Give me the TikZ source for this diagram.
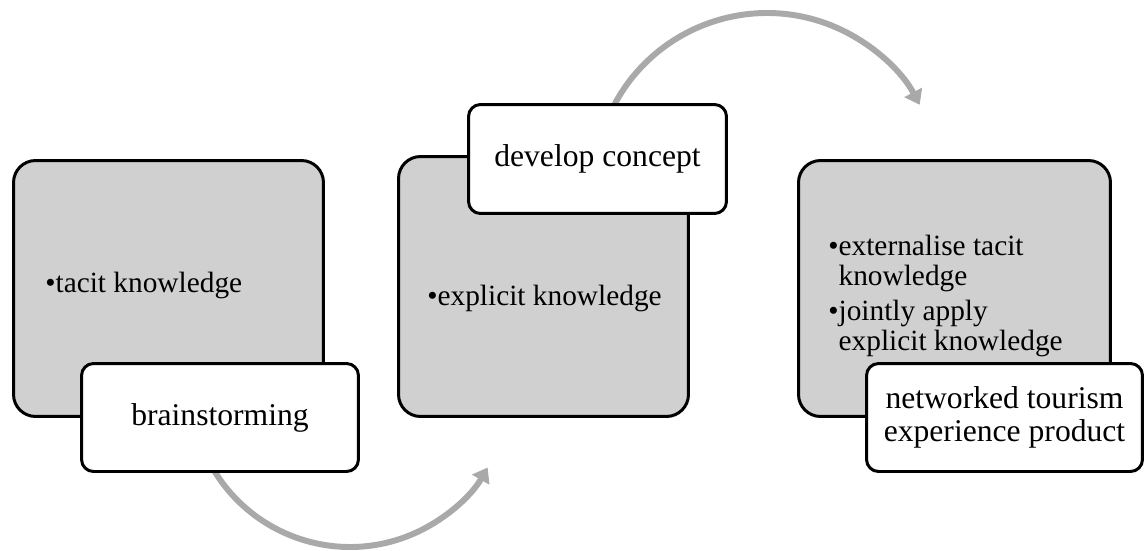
\documentclass[tikz,border=0pt]{standalone}
\usepackage{fontspec}
\setmainfont{Liberation Serif}
\usetikzlibrary{arrows.meta}
\definecolor{boxgray}{HTML}{D0D0D0}
\definecolor{arcgray}{HTML}{A9A9A9}

\begin{document}
\begin{tikzpicture}[x=0.02cm,y=-0.02cm,
	phase/.style={draw,line width=1.7pt,fill=boxgray,rounded corners=0.44cm},
	stage/.style={draw,line width=1.7pt,fill=white,rounded corners=0.24cm,align=center,font=\fontsize{18}{18.4}\selectfont},
	notes/.style={anchor=west,align=left,inner sep=0pt,font=\fontsize{16.7}{16.8}\selectfont},
	turn/.style={draw=arcgray,line width=3.4pt,-{Triangle[width=11pt,length=8pt]}}]
	\useasboundingbox (0,0) rectangle (1146,551);

	\node[phase,minimum width=6.2cm,minimum height=5.12cm] (p1) at (168.5,288.5) {};
	\node[phase,minimum width=5.8cm,minimum height=5.2cm] (p2) at (543.5,286.5) {};
	\node[phase,minimum width=6.24cm,minimum height=5.12cm] (p3) at (954.5,288.5) {};

	\node[notes] (n1) at (45,285) {\textbullet tacit knowledge};
	\node[notes] (n2) at (427,298) {\textbullet explicit knowledge};
	\node[notes] (n3) at (828,297) {\begin{tabular}{@{}l@{}l@{}}\textbullet&externalise tacit\\&knowledge\\[3.4pt]\textbullet&jointly apply\\&explicit knowledge\end{tabular}};

	\coordinate (c1) at (350,388);
	\coordinate (c2) at (767,186);
	\draw[turn] ([shift={(205:3.18cm)}]c1) arc[start angle=205,end angle=330,radius=3.18cm];
	\draw[turn] ([shift={(155:3.46cm)}]c2) arc[start angle=155,end angle=28,radius=3.46cm];

	\node[stage,minimum width=5.54cm,minimum height=2.16cm] (s1) at (220,417.5) {brainstorming};
	\node[stage,minimum width=5.16cm,minimum height=2.18cm] (s2) at (597.5,159) {develop concept};
	\node[stage,minimum width=5.52cm,minimum height=2.16cm] (s3) at (1004.5,417.5) {networked tourism\\experience product};

\end{tikzpicture}
\end{document}
